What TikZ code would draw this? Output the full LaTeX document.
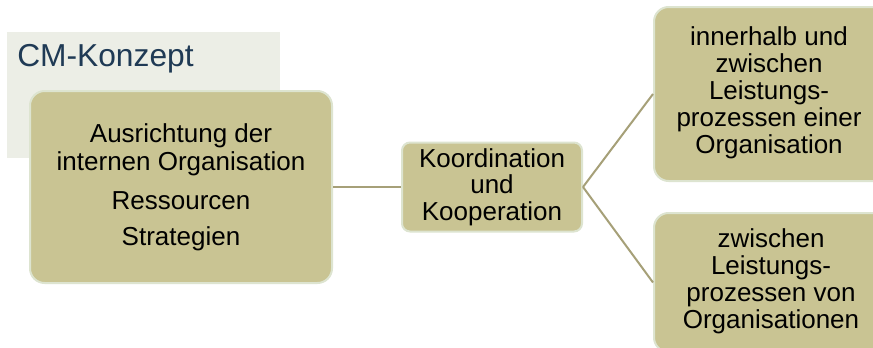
\documentclass[tikz,border=0pt]{standalone}
\usepackage{fontspec}
\setmainfont{Liberation Sans}
\definecolor{khaki}{HTML}{C9C493}
\definecolor{edgec}{HTML}{DDE4D0}
\definecolor{linec}{HTML}{A6A078}
\definecolor{bgc}{HTML}{ECEEE6}
\definecolor{titlec}{HTML}{1F3A55}
\begin{document}
\begin{tikzpicture}[x=0.75pt,y=-0.75pt,
  box/.style={draw=edgec, line width=1.5pt, fill=khaki, align=center, inner sep=0pt, text=black},
  conn/.style={draw=linec, line width=1.5pt}]
\useasboundingbox (0,0) rectangle (873,347);
\clip (0,0) rectangle (873,347);
\fill[white] (0,0) rectangle (873,347);
\node[fill=bgc, minimum width=273*0.75pt, minimum height=126*0.75pt, inner sep=0pt, anchor=north west] (bg) at (7,32) {};
\node[anchor=west, text=titlec, inner sep=0pt, font=\fontsize{23.8}{26}\selectfont] (title) at (17,59) {CM-Konzept};
\node[box, rounded corners=11pt, minimum width=302*0.75pt, minimum height=192*0.75pt, font=\fontsize{19.5}{21}\selectfont] (big) at (181,187)
  {Ausrichtung der\\internen Organisation\\[8pt]Ressourcen\\[6pt]Strategien};
\node[box, rounded corners=6pt, minimum width=180*0.75pt, minimum height=89*0.75pt, font=\fontsize{19.5}{20}\selectfont] (mid) at (492,187)
  {Koordination\\und\\Kooperation};
\node[box, rounded corners=11pt, minimum width=260*0.75pt, minimum height=174*0.75pt, anchor=west, font=\fontsize{19.5}{20.3}\selectfont] (top) at (653,94)
  {\hspace*{-22.5pt}\begin{tabular}{@{}c@{}}innerhalb und\\zwischen\\Leistungs-\\prozessen einer\\Organisation\end{tabular}};
\node[box, rounded corners=11pt, minimum width=260*0.75pt, minimum height=139*0.75pt, anchor=west, font=\fontsize{19.5}{20.3}\selectfont] (bot) at (653,282.5)
  {\hspace*{-19.5pt}\begin{tabular}{@{}c@{}}zwischen\\Leistungs-\\prozessen von\\Organisationen\end{tabular}};
\draw[conn] (big.east) -- (mid.west);
\draw[conn] (mid.east) -- (top.west);
\draw[conn] (mid.east) -- (bot.west);
\end{tikzpicture}
\end{document}
